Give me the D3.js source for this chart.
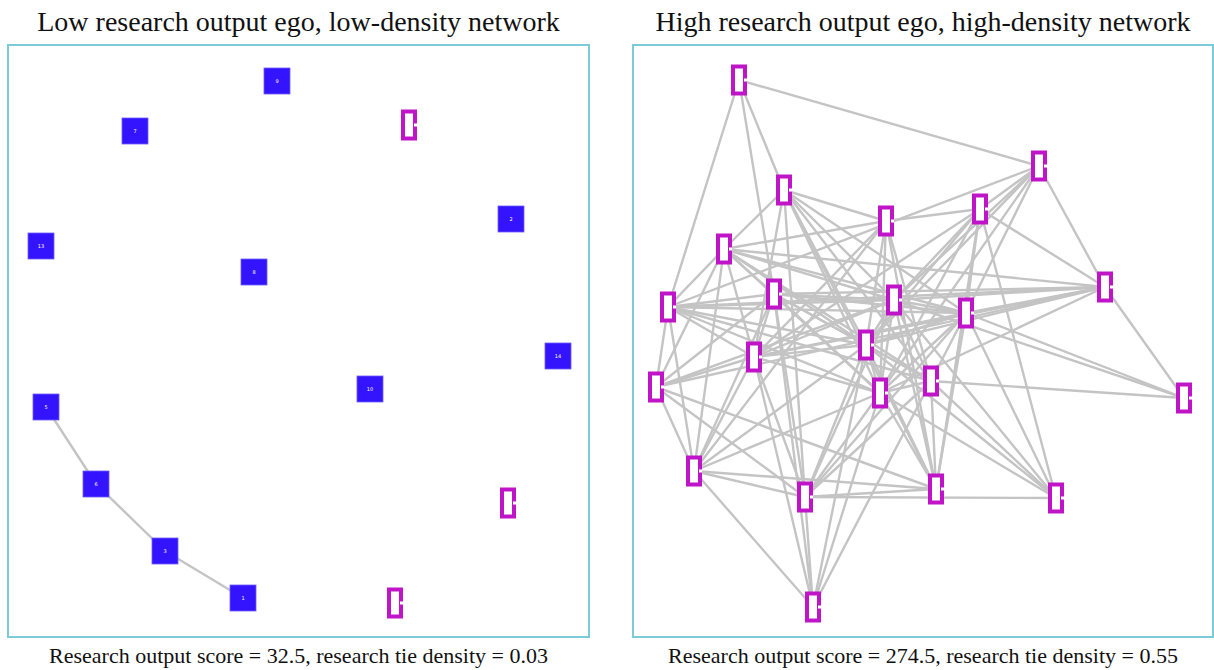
<!DOCTYPE html>
<html>
<head>
<meta charset="utf-8">
<script src="https://cdn.jsdelivr.net/npm/d3@7"></script>
<style>
  html, body { margin: 0; padding: 0; background: #fff; }
  svg { display: block; }
</style>
</head>
<body>
<svg id="chart" width="1214" height="670"></svg>
<script>
// ---------- DATA ----------
const panelTitles = ["Low research output ego, low-density network",
                     "High research output ego, high-density network"];
const panelCaptions = ["Research output score = 32.5, research tie density = 0.03",
                       "Research output score = 274.5, research tie density = 0.55"];

// Left network: layout positions (panel-local units), type: "r" = research (blue), "o" = other (magenta)
const leftIds   = ["9", "7", "13", "8", "5", "6", "3", "1", "a", "2", "14", "10", "b", "c"];
const leftX     = [269, 127, 33, 246, 38, 88, 157, 235, 401, 503, 550, 362, 500, 387];
const leftY     = [36, 86, 201, 227, 362, 439, 506, 553, 80, 174, 311, 344, 458, 558];
const leftType  = ["r","r","r","r","r","r","r","r","o","r","r","r","o","o"];
const leftEdges = ["5-6", "6-3", "3-1"];

// Right network: all magenta nodes
const rightIds  = ["A","B","C","D","E","F","G","H","I","J","K","L","M","N","O","P","Q","R","S","T","U","V"];
const rightX    = [106, 151, 253, 91, 141, 261, 35, 406, 347, 472, 333, 233, 121, 298, 247, 23, 61, 172, 303, 423, 551, 180];
const rightY    = [35, 145, 176, 204, 249, 255, 262, 121, 164, 242, 268, 300, 312, 336, 348, 342, 426, 452, 444, 453, 353, 562];
const rightEdges = [
  "A-H","A-G","A-E","A-B",
  "B-D","B-C","B-L","B-O","B-N","B-F","B-K","B-S","B-R","B-M",
  "C-D","C-I","C-L","C-O","C-S","C-M","C-N","C-Q",
  "D-G","D-E","D-M","D-Q","D-F","D-K","D-J","D-N","D-L","D-P","D-O",
  "E-G","E-P","E-F","E-K","E-J","E-M","E-L","E-O","E-N","E-Q","E-R","E-V",
  "F-G","F-H","F-I","F-J","F-K","F-L","F-M","F-N","F-O","F-P","F-R","F-S","F-T","F-U",
  "G-H","G-J","G-K","G-L","G-M","G-N","G-O","G-P","G-Q",
  "H-I","H-J","H-K","H-L","H-O",
  "I-J","I-K","I-L","I-M","I-O","I-S","I-T",
  "J-K","J-L","J-M","J-O","J-P","J-U",
  "K-L","K-M","K-N","K-O","K-R","K-S","K-T","K-U",
  "L-M","L-N","L-O","L-Q","L-R","L-S","L-T","L-V",
  "M-O","M-P","M-Q","M-R","M-V",
  "N-O","N-R","N-S","N-T","N-U","N-V",
  "O-Q","O-R","O-S","O-T","O-V",
  "P-Q","P-R","P-S",
  "Q-R","Q-S","Q-V",
  "R-S","R-T","R-V"
];

// ---------- DRAW ----------
const svg = d3.select("#chart");
const panels = [
  { x0: 8,   y0: 45, w: 581, h: 592 },
  { x0: 633, y0: 45, w: 580, h: 592 }
];
const BLUE = "#3414ff", MAG = "#bf14c8", EDGE = "#c4c4c4", BORDER = "#7ccbd8";

function buildNodes(ids, xs, ys, types) {
  return ids.map((id, i) => ({ id, x: xs[i], y: ys[i], type: types ? types[i] : "o" }));
}
const networks = [
  { nodes: buildNodes(leftIds, leftX, leftY, leftType), edges: leftEdges },
  { nodes: buildNodes(rightIds, rightX, rightY, null), edges: rightEdges }
];

networks.forEach((net, p) => {
  const P = panels[p];
  const sx = d3.scaleLinear().domain([0, P.w]).range([P.x0, P.x0 + P.w]);
  const sy = d3.scaleLinear().domain([0, P.h]).range([P.y0, P.y0 + P.h]);
  const byId = new Map(net.nodes.map(n => [n.id, n]));
  const g = svg.append("g");

  // title
  svg.append("text")
    .attr("x", sx(P.w / 2)).attr("y", 31)
    .attr("text-anchor", "middle")
    .style("font-family", "'Liberation Serif', 'Times New Roman', serif")
    .style("font-size", "28px").style("fill", "#111")
    .text(panelTitles[p]);

  // caption
  svg.append("text")
    .attr("x", sx(P.w / 2)).attr("y", 663)
    .attr("text-anchor", "middle")
    .style("font-family", "'Liberation Serif', 'Times New Roman', serif")
    .style("font-size", "22px").style("fill", "#111")
    .text(panelCaptions[p]);

  // border
  g.append("rect")
    .attr("x", sx(0)).attr("y", sy(0))
    .attr("width", sx(P.w) - sx(0)).attr("height", sy(P.h) - sy(0))
    .attr("fill", "none").attr("stroke", BORDER).attr("stroke-width", 2);

  // edges
  const links = net.edges.map(e => { const [a, b] = e.split("-"); return { s: byId.get(a), t: byId.get(b) }; });
  g.append("g").selectAll("line").data(links).join("line")
    .attr("x1", d => sx(d.s.x)).attr("y1", d => sy(d.s.y))
    .attr("x2", d => sx(d.t.x)).attr("y2", d => sy(d.t.y))
    .attr("stroke", EDGE).attr("stroke-width", 2.4).attr("stroke-linecap", "round");

  // nodes
  const ng = g.append("g").selectAll("g").data(net.nodes).join("g")
    .attr("transform", d => `translate(${sx(d.x)},${sy(d.y)})`);

  ng.filter(d => d.type === "r").append("rect")
    .attr("x", -13).attr("y", -13).attr("width", 26).attr("height", 26)
    .attr("fill", BLUE).attr("stroke", "#6d5cff").attr("stroke-width", 0.8);
  ng.filter(d => d.type === "r").append("text")
    .attr("text-anchor", "middle").attr("dy", "0.35em")
    .style("font-family", "'DejaVu Sans', sans-serif").style("font-size", "5px")
    .style("fill", "#fff")
    .text(d => d.id);

  ng.filter(d => d.type === "o").append("rect")
    .attr("x", -6).attr("y", -13.5).attr("width", 12).attr("height", 27)
    .attr("fill", "#fff").attr("stroke", MAG).attr("stroke-width", 4);
  ng.filter(d => d.type === "o").append("rect")
    .attr("x", 5).attr("y", -1.5).attr("width", 3).attr("height", 3)
    .attr("fill", "#fff");
});
</script>
</body>
</html>
